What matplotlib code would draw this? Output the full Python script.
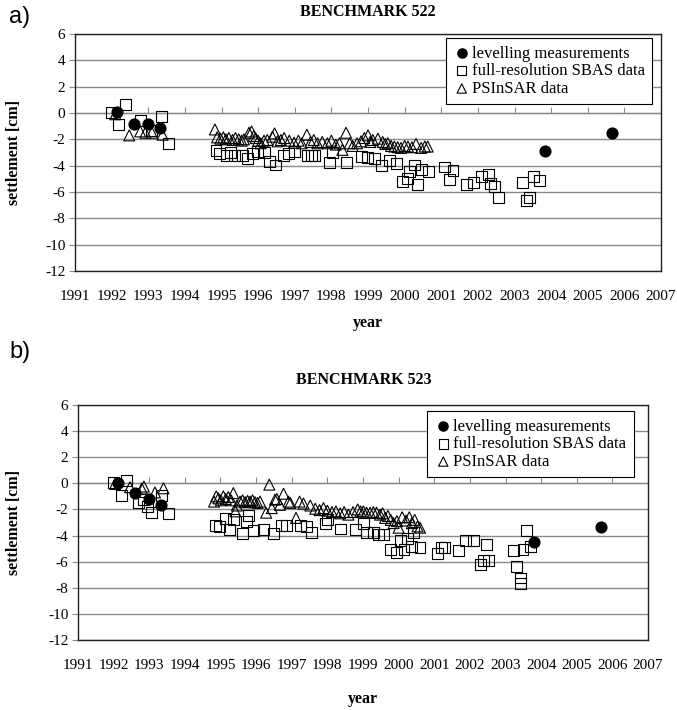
import numpy as np
import matplotlib
matplotlib.use("Agg")
import matplotlib.pyplot as plt

plt.rcParams['font.family'] = ['Liberation Serif', 'DejaVu Serif']
plt.rcParams['axes.unicode_minus'] = False

# ---- data: benchmark 522 ----
lev_522_year = [1992.14, 1992.62, 1992.99, 1993.33, 2003.83, 2005.66]
lev_522_val = [0.05, -0.85, -0.85, -1.15, -2.9, -1.5]

sbas_522_year = [1991.99, 1992.39, 1992.19, 1992.78, 1993.10, 1993.36, 1993.56,
                 1994.85, 1994.95, 1995.13, 1995.25, 1995.36, 1995.57, 1995.70,
                 1995.84, 1995.98, 1996.18, 1996.30, 1996.48, 1996.69, 1996.84,
                 1996.98, 1997.35, 1997.45, 1997.53, 1997.94, 1998.03, 1998.42,
                 1998.81, 1998.99, 1999.17, 1999.36, 1999.59, 1999.79, 1999.95,
                 2000.07, 2000.13, 2000.27, 2000.34, 2000.45, 2000.64, 2001.09,
                 2001.23, 2001.32, 2001.69, 2001.89, 2002.09, 2002.28, 2002.35,
                 2002.46, 2002.55, 2003.23, 2003.33, 2003.42, 2003.51, 2003.69]
sbas_522_val = [0.05, 0.63, -0.84, -0.58, -1.35, -0.3, -2.3,
                -2.85, -3.05, -3.2, -3.0, -3.25, -3.25, -3.45,
                -3.05, -2.95, -3.0, -3.7, -3.95, -3.25, -3.1,
                -2.95, -3.2, -3.2, -3.25, -3.75, -3.0, -3.75,
                -3.3, -3.35, -3.45, -4.0, -3.6, -3.8, -5.2,
                -5.0, -4.45, -3.95, -5.4, -4.3, -4.45, -4.1,
                -5.05, -4.35, -5.45, -5.3, -4.85, -4.7, -5.35,
                -5.6, -6.45, -5.3, -6.65, -6.45, -4.8, -5.1]

ps_522_year = [1992.10, 1992.48, 1992.78, 1992.92, 1993.10, 1993.39,
               1994.82, 1994.88, 1994.97, 1995.05, 1995.12, 1995.20, 1995.30,
               1995.38, 1995.47, 1995.55, 1995.61, 1995.75, 1995.82, 1995.88,
               1995.93, 1996.00, 1996.07, 1996.16, 1996.25, 1996.39, 1996.45,
               1996.53, 1996.62, 1996.71, 1996.85, 1996.98, 1997.10, 1997.19,
               1997.33, 1997.43, 1997.52, 1997.62, 1997.75, 1997.89, 1998.00,
               1998.12, 1998.22, 1998.30, 1998.40, 1998.50, 1998.58, 1998.70,
               1998.81, 1998.90, 1999.00, 1999.06, 1999.13, 1999.27, 1999.40,
               1999.47, 1999.54, 1999.63, 1999.72, 1999.81, 1999.90, 2000.00,
               2000.09, 2000.20, 2000.31, 2000.45, 2000.55, 2000.63]
ps_522_val = [-0.1, -1.7, -1.4, -1.5, -1.5, -1.65,
              -1.25, -1.85, -1.95, -1.85, -2.0, -1.9, -2.05,
              -1.9, -2.0, -2.1, -2.0, -1.5, -1.4, -1.75,
              -1.9, -2.1, -2.3, -2.1, -2.05, -1.8, -1.55,
              -2.15, -2.05, -1.9, -2.1, -2.25, -2.1, -2.3,
              -1.65, -2.2, -2.05, -2.3, -2.2, -2.3, -2.1,
              -2.4, -2.3, -2.8, -1.5, -2.3, -2.5, -2.3,
              -2.15, -1.9, -1.7, -2.2, -2.05, -1.95, -2.2,
              -2.35, -2.3, -2.5, -2.55, -2.6, -2.65, -2.5,
              -2.55, -2.6, -2.35, -2.65, -2.55, -2.55]

# ---- data: benchmark 523 ----
lev_523_year = [1992.13, 1992.61, 1992.98, 1993.32, 2003.80, 2005.67]
lev_523_val = [0.05, -0.76, -1.22, -1.68, -4.5, -3.35]

sbas_523_year = [1991.99, 1992.37, 1992.21, 1992.69, 1992.84, 1992.95, 1993.07,
                 1993.35, 1993.54, 1994.85, 1994.97, 1995.13, 1995.25, 1995.36,
                 1995.63, 1995.72, 1995.78, 1995.93, 1996.21, 1996.49, 1996.72,
                 1996.86, 1997.25, 1997.42, 1997.56, 1997.94, 1998.00, 1998.36,
                 1998.78, 1999.02, 1999.09, 1999.30, 1999.44, 1999.58, 1999.76,
                 1999.93, 2000.04, 2000.15, 2000.25, 2000.37, 2000.42, 2000.60,
                 2001.09, 2001.21, 2001.30, 2001.68, 2001.87, 2002.09, 2002.29,
                 2002.38, 2002.46, 2002.52, 2003.23, 2003.32, 2003.42, 2003.42,
                 2003.49, 2003.60, 2003.70]
sbas_523_val = [0.06, 0.2, -0.95, -1.5, -1.25, -1.8, -2.2,
                -0.9, -2.3, -3.2, -3.3, -2.7, -3.55, -2.8,
                -3.85, -2.95, -2.5, -3.6, -3.55, -3.85, -3.2,
                -3.25, -3.25, -3.3, -3.75, -3.1, -2.8, -3.5,
                -3.55, -3.1, -3.8, -3.75, -3.95, -3.95, -5.05,
                -5.3, -4.4, -5.1, -4.2, -4.85, -3.8, -4.95,
                -5.35, -4.9, -4.95, -5.15, -4.35, -4.35, -6.2,
                -5.9, -4.7, -5.9, -5.15, -6.4, -7.25, -7.65,
                -5.05, -3.6, -4.85]

ps_523_year = [1992.04, 1992.46, 1992.79, 1992.85, 1993.16, 1993.40,
               1994.82, 1994.88, 1994.94, 1995.01, 1995.08, 1995.15, 1995.22,
               1995.30, 1995.36, 1995.42, 1995.46, 1995.55, 1995.62, 1995.69,
               1995.76, 1995.83, 1995.90, 1995.97, 1996.04, 1996.11, 1996.28,
               1996.37, 1996.44, 1996.53, 1996.58, 1996.67, 1996.77, 1996.91,
               1996.96, 1997.12, 1997.22, 1997.33, 1997.52, 1997.66, 1997.78,
               1997.89, 1998.00, 1998.13, 1998.24, 1998.36, 1998.47, 1998.59,
               1998.72, 1998.85, 1998.93, 1999.01, 1999.10, 1999.20, 1999.29,
               1999.38, 1999.48, 1999.55, 1999.62, 1999.70, 1999.78, 1999.86,
               1999.95, 2000.00, 2000.10, 2000.21, 2000.30, 2000.37, 2000.45,
               2000.53, 2000.60]
ps_523_val = [-0.05, -0.3, -0.4, -0.25, -0.7, -0.38,
              -1.4, -1.0, -1.15, -1.3, -1.0, -1.2, -1.05,
              -1.3, -0.75, -2.15, -1.7, -1.4, -1.3, -1.45,
              -1.35, -1.4, -1.3, -1.45, -1.5, -1.4, -2.25,
              -0.1, -1.9, -1.25, -1.2, -1.65, -0.8, -1.4,
              -1.5, -2.65, -1.4, -1.55, -1.7, -1.95, -2.05,
              -1.9, -2.1, -2.2, -2.15, -2.3, -2.2, -2.4,
              -2.2, -2.0, -2.15, -2.15, -2.25, -2.25, -2.2,
              -2.25, -2.4, -2.3, -2.65, -2.5, -2.8, -3.05,
              -2.9, -3.4, -2.6, -2.85, -2.6, -3.05, -2.8,
              -3.3, -3.4]

years = list(range(1991, 2008))
yticks = list(range(-12, 7, 2))


def draw_panel(ax, lev, sbas, ps, legend_anchor, xlabel_y, ylabel_x):
    ax.set_xlim(1991, 2007)
    ax.set_ylim(-12, 6)

    ax.scatter(sbas[0], sbas[1], marker='s', s=62, facecolors='none',
               edgecolors='black', linewidths=0.8, zorder=3,
               label='full-resolution SBAS data')
    ax.scatter(ps[0], ps[1], marker='^', s=62, facecolors='none',
               edgecolors='black', linewidths=0.8, zorder=3,
               label='PSInSAR data')
    ax.scatter(lev[0], lev[1], marker='o', s=60, color='black', zorder=4,
               label='levelling measurements')

    ax.set_yticks(yticks)
    ax.yaxis.grid(True, color='#8a8a8a', linewidth=1.0)
    ax.set_axisbelow(True)
    ax.tick_params(axis='y', length=4, color='#8a8a8a', labelsize=11, pad=3)

    ax.set_xticks(years)
    ax.set_xticklabels([str(y) for y in years])
    ax.tick_params(axis='x', length=0, labelsize=11, pad=14)

    for sp in ax.spines.values():
        sp.set_color('#222222')
        sp.set_linewidth(1.0)

    # horizontal axis drawn at settlement = 0 with its tick marks
    sec = ax.secondary_xaxis(2 / 3)
    sec.set_xticks(years)
    sec.tick_params(axis='x', direction='out', length=4, color='#8a8a8a',
                    labelbottom=False, labeltop=False)
    sec.spines['bottom'].set_color('#8a8a8a')
    sec.spines['bottom'].set_linewidth(1.0)

    ax.set_xlabel('year', fontsize=11.5, fontweight='bold')
    ax.xaxis.set_label_coords(0.5, xlabel_y)
    ax.set_ylabel('settlement [cm]', fontsize=11.5, fontweight='bold')
    ax.yaxis.set_label_coords(ylabel_x, 0.5)

    handles, labels = ax.get_legend_handles_labels()
    order = [2, 0, 1]
    leg = ax.legend([handles[i] for i in order], [labels[i] for i in order],
                    loc='upper right', bbox_to_anchor=legend_anchor,
                    fontsize=12, frameon=True, fancybox=False,
                    edgecolor='black', framealpha=1, borderpad=0.45,
                    handletextpad=0.1, handlelength=1.0, labelspacing=0.1,
                    borderaxespad=0, markerscale=0.85)
    leg.get_frame().set_linewidth(0.8)
    leg.set_zorder(10)


fig = plt.figure(figsize=(6.77, 7.10), dpi=100)
ax1 = fig.add_axes([0.1108, 0.6183, 0.8656, 0.3338])
ax2 = fig.add_axes([0.1152, 0.0986, 0.8420, 0.3310])

draw_panel(ax1, (lev_522_year, lev_522_val),
           (sbas_522_year, sbas_522_val), (ps_522_year, ps_522_val),
           (0.985, 0.983), -0.186, -0.09)
draw_panel(ax2, (lev_523_year, lev_523_val),
           (sbas_523_year, sbas_523_val), (ps_523_year, ps_523_val),
           (0.975, 0.974), -0.217, -0.098)

fig.text(368 / 677, 1 - 12 / 710, 'BENCHMARK 522', fontsize=11.5,
         fontweight='bold', ha='center', va='center')
fig.text(364 / 677, 1 - 380 / 710, 'BENCHMARK 523', fontsize=11.5,
         fontweight='bold', ha='center', va='center')

fig.text(20 / 677, 1 - 17 / 710, 'a)', fontsize=17, family='Liberation Sans',
         ha='center', va='center')
fig.text(20 / 677, 1 - 352 / 710, 'b)', fontsize=17, family='Liberation Sans',
         ha='center', va='center')

fig.savefig('out.png', dpi=100)
